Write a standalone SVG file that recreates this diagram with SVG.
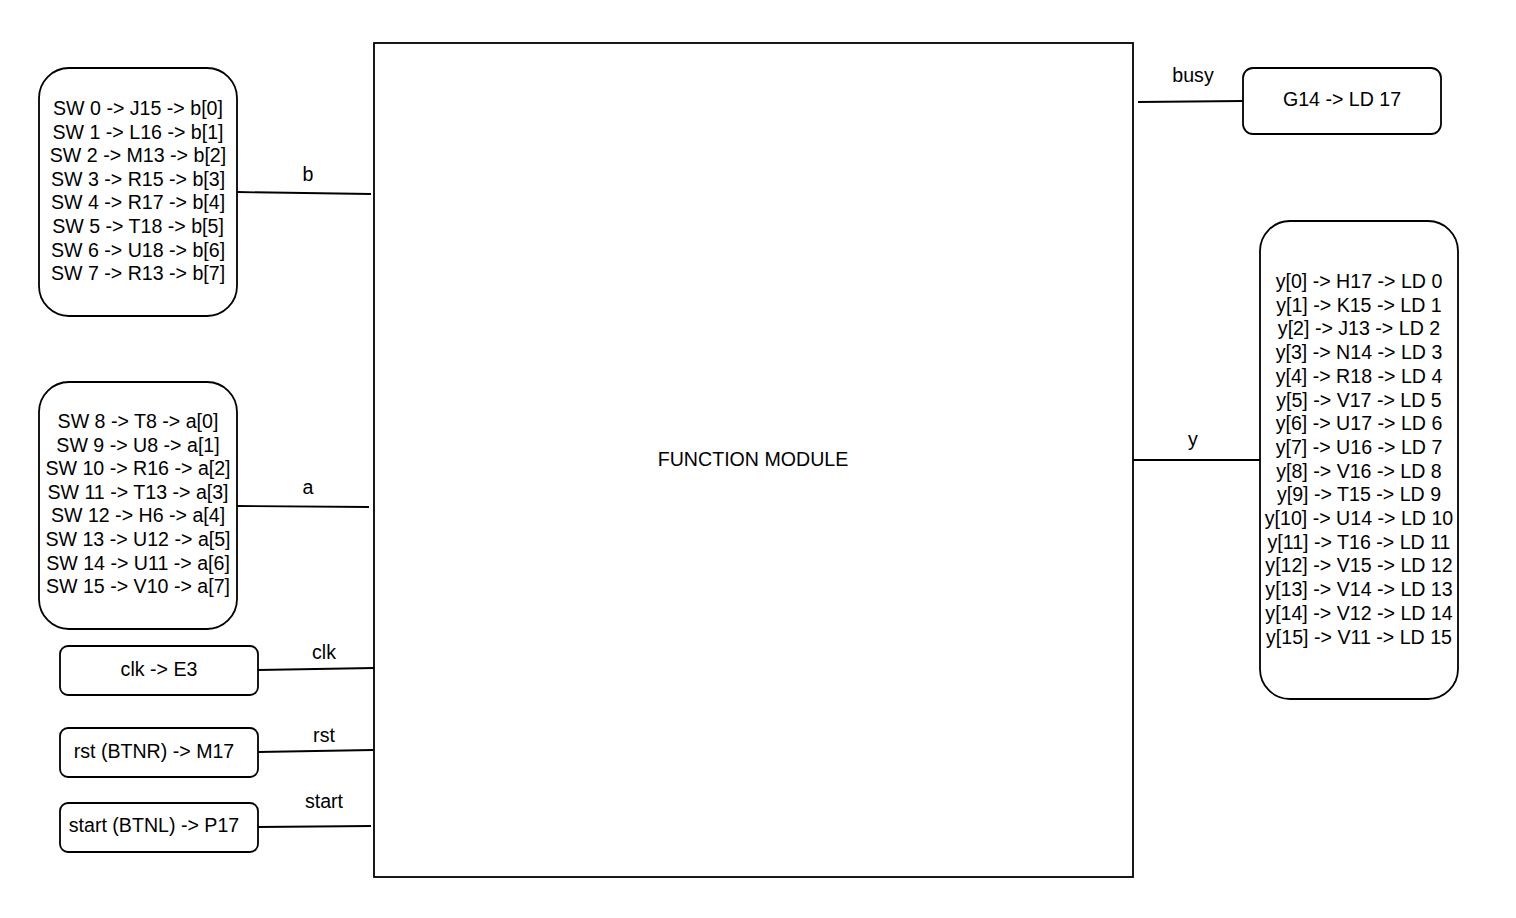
<svg xmlns="http://www.w3.org/2000/svg" width="1516" height="918" viewBox="0 0 1516 918">
<style>
.box{fill:#fff;stroke:#000;stroke-width:1.8}
.t{font-family:"Liberation Sans",Arial,sans-serif;font-size:19.6px;fill:#000;text-anchor:middle}
.c{stroke:#000;stroke-width:1.8;fill:none}
</style>
<rect width="1516" height="918" fill="#fff"/>
<g id="function-module">
<rect class="box" x="374" y="43" width="759" height="834"/>
<text class="t" x="753" y="466">FUNCTION MODULE</text>
</g>
<g id="b-pins">
<rect class="box" x="39" y="68" width="198" height="248" rx="30"/>
<text class="t" x="138" y="115">SW 0 -&gt; J15 -&gt; b[0]</text>
<text class="t" x="138" y="138.6">SW 1 -&gt; L16 -&gt; b[1]</text>
<text class="t" x="138" y="162.2">SW 2 -&gt; M13 -&gt; b[2]</text>
<text class="t" x="138" y="185.8">SW 3 -&gt; R15 -&gt; b[3]</text>
<text class="t" x="138" y="209.4">SW 4 -&gt; R17 -&gt; b[4]</text>
<text class="t" x="138" y="233">SW 5 -&gt; T18 -&gt; b[5]</text>
<text class="t" x="138" y="256.6">SW 6 -&gt; U18 -&gt; b[6]</text>
<text class="t" x="138" y="280.2">SW 7 -&gt; R13 -&gt; b[7]</text>
</g>
<g id="a-pins">
<rect class="box" x="39" y="382" width="198" height="247" rx="30"/>
<text class="t" x="138" y="428">SW 8 -&gt; T8 -&gt; a[0]</text>
<text class="t" x="138" y="451.6">SW 9 -&gt; U8 -&gt; a[1]</text>
<text class="t" x="138" y="475.2">SW 10 -&gt; R16 -&gt; a[2]</text>
<text class="t" x="138" y="498.8">SW 11 -&gt; T13 -&gt; a[3]</text>
<text class="t" x="138" y="522.4">SW 12 -&gt; H6 -&gt; a[4]</text>
<text class="t" x="138" y="546">SW 13 -&gt; U12 -&gt; a[5]</text>
<text class="t" x="138" y="569.6">SW 14 -&gt; U11 -&gt; a[6]</text>
<text class="t" x="138" y="593.2">SW 15 -&gt; V10 -&gt; a[7]</text>
</g>
<g id="clk-pin">
<rect class="box" x="60" y="646" width="198" height="49" rx="8"/>
<text class="t" x="159" y="676">clk -&gt; E3</text>
</g>
<g id="rst-pin">
<rect class="box" x="60" y="728" width="198" height="49" rx="8"/>
<text class="t" x="154" y="758">rst (BTNR) -&gt; M17</text>
</g>
<g id="start-pin">
<rect class="box" x="60" y="803" width="198" height="49" rx="8"/>
<text class="t" x="154" y="832">start (BTNL) -&gt; P17</text>
</g>
<g id="busy-pin">
<rect class="box" x="1243" y="68" width="198" height="66" rx="10"/>
<text class="t" x="1342" y="106">G14 -&gt; LD 17</text>
</g>
<g id="y-pins">
<rect class="box" x="1260" y="221" width="198" height="478" rx="30"/>
<text class="t" x="1359" y="288">y[0] -&gt; H17 -&gt; LD 0</text>
<text class="t" x="1359" y="311.7">y[1] -&gt; K15 -&gt; LD 1</text>
<text class="t" x="1359" y="335.4">y[2] -&gt; J13 -&gt; LD 2</text>
<text class="t" x="1359" y="359.1">y[3] -&gt; N14 -&gt; LD 3</text>
<text class="t" x="1359" y="382.8">y[4] -&gt; R18 -&gt; LD 4</text>
<text class="t" x="1359" y="406.5">y[5] -&gt; V17 -&gt; LD 5</text>
<text class="t" x="1359" y="430.2">y[6] -&gt; U17 -&gt; LD 6</text>
<text class="t" x="1359" y="453.9">y[7] -&gt; U16 -&gt; LD 7</text>
<text class="t" x="1359" y="477.6">y[8] -&gt; V16 -&gt; LD 8</text>
<text class="t" x="1359" y="501.3">y[9] -&gt; T15 -&gt; LD 9</text>
<text class="t" x="1359" y="525">y[10] -&gt; U14 -&gt; LD 10</text>
<text class="t" x="1359" y="548.7">y[11] -&gt; T16 -&gt; LD 11</text>
<text class="t" x="1359" y="572.4">y[12] -&gt; V15 -&gt; LD 12</text>
<text class="t" x="1359" y="596.1">y[13] -&gt; V14 -&gt; LD 13</text>
<text class="t" x="1359" y="619.8">y[14] -&gt; V12 -&gt; LD 14</text>
<text class="t" x="1359" y="643.5">y[15] -&gt; V11 -&gt; LD 15</text>
</g>
<g id="connectors">
<path class="c" d="M237 192 L371 194"/>
<text class="t" x="308" y="181">b</text>
<path class="c" d="M237 506 L369 507"/>
<text class="t" x="308" y="494">a</text>
<path class="c" d="M258 670 L374 668"/>
<text class="t" x="324" y="659">clk</text>
<path class="c" d="M258 752 L373 750"/>
<text class="t" x="324" y="742">rst</text>
<path class="c" d="M258 827 L371 826"/>
<text class="t" x="324" y="808">start</text>
<path class="c" d="M1138 102 L1243 101"/>
<text class="t" x="1193" y="82">busy</text>
<path class="c" d="M1133 460 L1260 460"/>
<text class="t" x="1193" y="446">y</text>
</g>
</svg>
